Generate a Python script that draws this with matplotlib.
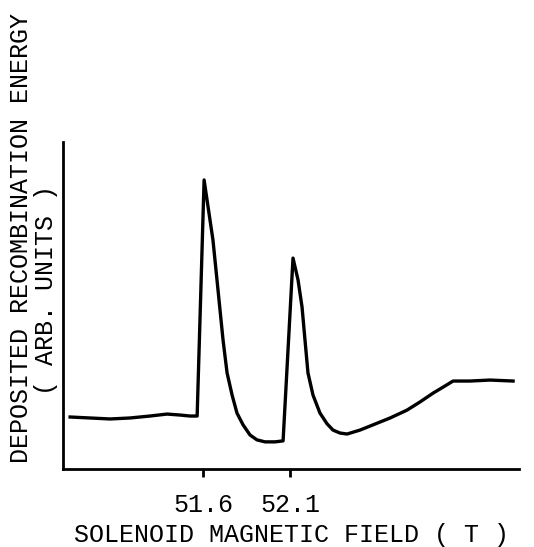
import matplotlib
matplotlib.use("Agg")
import matplotlib.pyplot as plt

# magnetic field (T) and deposited energy (arb. units)
field = [50.836, 50.951, 51.066, 51.180, 51.295, 51.393, 51.468, 51.525, 51.566,
         51.606, 51.657, 51.686, 51.715, 51.738, 51.767, 51.795, 51.830, 51.870,
         51.910, 51.956, 52.014, 52.060, 52.117, 52.146, 52.169, 52.186, 52.203,
         52.232, 52.272, 52.313, 52.347, 52.387, 52.428, 52.502, 52.577, 52.675,
         52.772, 52.847, 52.922, 52.991, 53.037, 53.134, 53.249, 53.382]
energy = [1.59, 1.56, 1.53, 1.56, 1.62, 1.68, 1.65, 1.62, 1.62,
          8.84, 7.00, 5.47, 3.94, 2.94, 2.26, 1.71, 1.35, 1.04,
          0.89, 0.83, 0.83, 0.86, 6.45, 5.78, 4.95, 3.94, 2.94,
          2.26, 1.71, 1.38, 1.19, 1.10, 1.07, 1.19, 1.35, 1.56,
          1.80, 2.05, 2.32, 2.54, 2.69, 2.69, 2.72, 2.69]
tick_pos = [51.6, 52.1]
tick_labels = ["51.6", "52.1"]

FONT = "Liberation Mono"
W, H = 534, 547

fig = plt.figure(figsize=(W / 100, H / 100), dpi=100)
ax = fig.add_axes([63 / W, 1 - 469 / H, (519 - 63) / W, (469 - 142) / H])
ax.plot(field, energy, color="black", lw=2.4, solid_joinstyle="round")
ax.set_xlim(50.795, 53.416)
ax.set_ylim(0, 10)

for s in ["top", "right"]:
    ax.spines[s].set_visible(False)
for s in ["left", "bottom"]:
    ax.spines[s].set_linewidth(2)
ax.set_yticks([])
ax.set_xticks(tick_pos)
ax.set_xticklabels(tick_labels, family=FONT, fontsize=18)
ax.tick_params(axis="x", direction="out", length=6, width=2, pad=11)

fig.text(291 / W, 1 - 542 / H, "SOLENOID MAGNETIC FIELD ( T )", family=FONT,
         fontsize=18, ha="center", va="baseline")
fig.text(21 / W, 1 - 238 / H, "DEPOSITED RECOMBINATION ENERGY", family=FONT,
         fontsize=18, ha="center", va="center", rotation=90)
fig.text(46 / W, 1 - 290 / H, "( ARB. UNITS )", family=FONT,
         fontsize=18, ha="center", va="center", rotation=90)

fig.savefig("out.png", dpi=100)
plt.close(fig)
